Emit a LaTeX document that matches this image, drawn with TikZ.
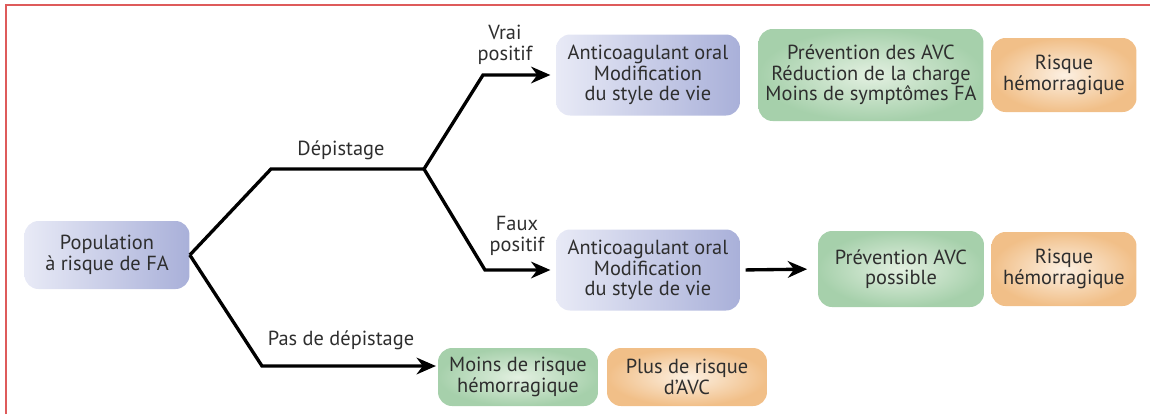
\documentclass[tikz,border=0pt]{standalone}
\usepackage{fontspec}
\setmainfont{PT Sans}
\usetikzlibrary{arrows.meta}
\definecolor{txt}{HTML}{2E2E2E}
\definecolor{blueL}{HTML}{E8EAF6}
\definecolor{blueD}{HTML}{A9B0D9}
\definecolor{greenC}{HTML}{E3F0E1}
\definecolor{greenE}{HTML}{A6D0AB}
\definecolor{orangeC}{HTML}{FCF0E2}
\definecolor{orangeE}{HTML}{F1BF88}
\definecolor{frame}{HTML}{DE5B5B}
\tikzset{
  box/.style={rounded corners=0.28cm, align=center, inner sep=0pt, text=txt,
    font=\fontsize{11.6}{11.6}\selectfont},
  bluebox/.style={box, left color=blueL, right color=blueD},
  greenbox/.style={box, inner color=greenC, outer color=greenE},
  orangebox/.style={box, inner color=orangeC, outer color=orangeE},
  conn/.style={line width=1.9pt, black, line join=miter},
  arr/.style={conn, -{Stealth[length=11pt,width=9.5pt]}},
  lbl/.style={text=txt, align=center, inner sep=0pt, font=\fontsize{11.6}{11.6}\selectfont}
}
\begin{document}
\begin{tikzpicture}[x=0.02cm,y=-0.02cm]
\useasboundingbox (0,0) rectangle (1150,414);
\draw[frame, line width=1.3pt] (6,414) -- (6,5) -- (1150,5);

\node[bluebox, minimum width=3.3cm, minimum height=1.36cm] (pop) at (107,255) {Population\\à risque de FA};
\node[bluebox, minimum width=3.68cm, minimum height=1.62cm] (a1) at (648,75) {Anticoagulant oral\\Modification\\du style de vie};
\node[greenbox, minimum width=4.5cm, minimum height=1.84cm] (g1) at (871,75) {Prévention des AVC\\Réduction de la charge\\Moins de symptômes FA};
\node[orangebox, minimum width=2.9cm, minimum height=1.48cm] (o1) at (1064,75) {Risque\\hémorragique};
\node[bluebox, minimum width=3.68cm, minimum height=1.62cm] (a2) at (648,270) {Anticoagulant oral\\Modification\\du style de vie};
\node[greenbox, minimum width=3.32cm, minimum height=1.52cm] (g2) at (901,269) {Prévention AVC\\possible};
\node[orangebox, minimum width=2.9cm, minimum height=1.48cm] (o2) at (1064,269) {Risque\\hémorragique};
\node[greenbox, minimum width=3.2cm, minimum height=1.16cm] (g3) at (518,377) {Moins de risque\\hémorragique};
\node[orangebox, minimum width=3.2cm, minimum height=1.16cm] (o3) at (687,377) {Plus de risque\\d’AVC};

\coordinate (d1) at (271,169);
\coordinate (d2) at (424,169);
\coordinate (v1) at (483,75);
\coordinate (f1) at (485,270);
\coordinate (p1) at (262,366);

\draw[conn] (pop.east) -- (d1) -- (d2);
\draw[arr, shorten >=3pt] (d2) -- (v1) -- (a1.west);
\draw[arr, shorten >=3pt] (d2) -- (f1) -- (a2.west);
\draw[arr, shorten >=1pt] (pop.east) -- (p1) -- (p1 -| g3.west);
\draw[arr, shorten <=3pt, shorten >=6pt] (a2.east) -- (g2.west);

\node[lbl] (ldep) at (341,150) {Dépistage};
\node[lbl] (lvrai) at (505,45) {Vrai\\positif};
\node[lbl] (lfaux) at (517,236) {Faux\\positif};
\node[lbl] (lpas) at (341,340) {Pas de dépistage};
\end{tikzpicture}
\end{document}
